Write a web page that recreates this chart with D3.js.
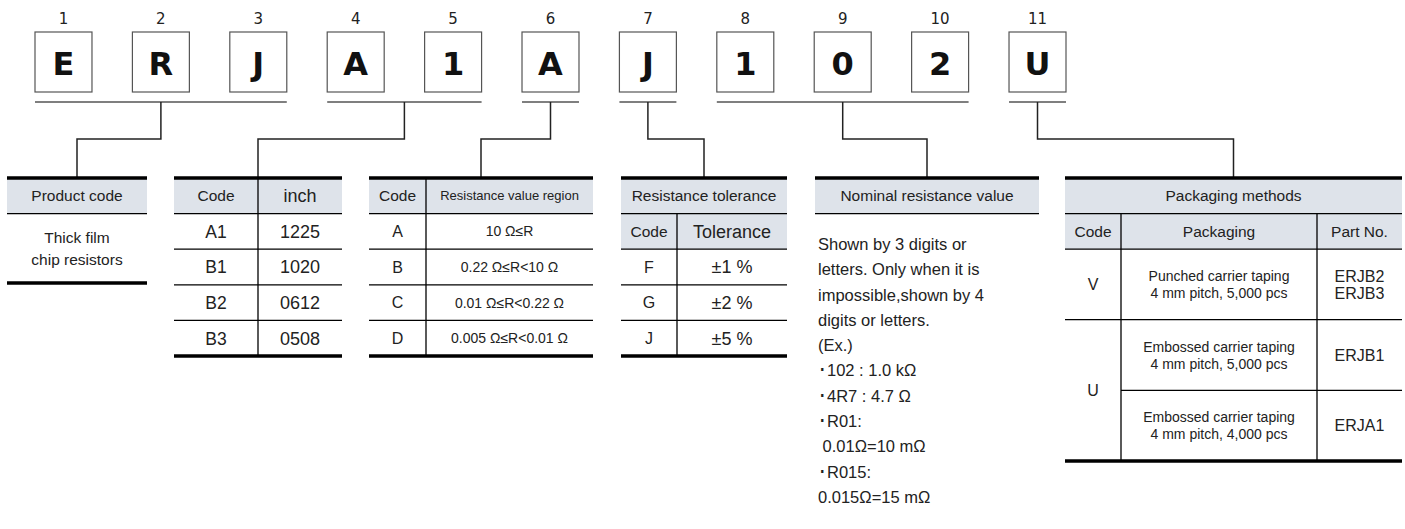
<!DOCTYPE html>
<html>
<head>
<meta charset="utf-8">
<script src="https://cdn.jsdelivr.net/npm/d3@7"></script>
<style>
  html, body { margin: 0; padding: 0; background: #fff; }
  svg { display: block; }
  .tbl text { font-family: "Liberation Sans", Arial, sans-serif; fill: #222; }
  .code text { font-family: "DejaVu Sans", Verdana, sans-serif; fill: #111; }
</style>
</head>
<body>
<div id="chart"></div>
<script>
// part number characters and their position numbers
const partPositions = ['1','2','3','4','5','6','7','8','9','10','11'];
const partChars     = ['E','R','J','A','1','A','J','1','0','2','U'];
// which characters belong to each explanation block (first, last index)
const groupSpans = [[0,2],[3,4],[5,5],[6,6],[7,9],[10,10]];

const productTitle = 'Product code';
const productText  = ['Thick film', 'chip resistors'];

const sizeHeader = ['Code', 'inch'];
const sizeCodes  = ['A1', 'B1', 'B2', 'B3'];
const sizeInches = ['1225', '1020', '0612', '0508'];

const regionHeader = ['Code', 'Resistance value region'];
const regionCodes  = ['A', 'B', 'C', 'D'];
const regionValues = ['10 Ω≤R', '0.22 Ω≤R<10 Ω', '0.01 Ω≤R<0.22 Ω', '0.005 Ω≤R<0.01 Ω'];

const toleranceTitle  = 'Resistance tolerance';
const toleranceHeader = ['Code', 'Tolerance'];
const toleranceCodes  = ['F', 'G', 'J'];
const toleranceValues = ['±1 %', '±2 %', '±5 %'];

const nominalTitle = 'Nominal resistance value';
const nominalLines = [
  'Shown by 3 digits or',
  'letters. Only when it is',
  'impossible,shown by 4',
  'digits or letters.',
  '(Ex.)',
  '･102 : 1.0 kΩ',
  '･4R7 : 4.7 Ω',
  '･R01:',
  ' 0.01Ω=10 mΩ',
  '･R015:',
  '0.015Ω=15 mΩ'
];

const packagingTitle  = 'Packaging methods';
const packagingHeader = ['Code', 'Packaging', 'Part No.'];
const packagingCodes  = ['V', 'U'];
const packagingTypes  = [
  ['Punched carrier taping', '4 mm pitch, 5,000 pcs'],
  ['Embossed carrier taping', '4 mm pitch, 5,000 pcs'],
  ['Embossed carrier taping', '4 mm pitch, 4,000 pcs']
];
const packagingParts = [['ERJB2', 'ERJB3'], ['ERJB1'], ['ERJA1']];

const W = 1405, H = 529;
const HEAD_FILL = '#dee3ea';

let svg = d3.select('#chart').append('svg')
  .attr('width', W)
  .attr('height', H);

// ---- scales
let x = d3.scaleBand()
  .domain(partPositions)
  .range([35, 1066])
  .paddingInner(0.415)
  .paddingOuter(0);

let rowY = d3.scaleLinear().domain([0, 5]).range([178, 356]);   // standard table rows
let pkgY = d3.scaleLinear().domain([0, 3]).range([249, 461]);   // packaging body rows
let lineY = d3.scaleLinear().domain([0, 1]).range([244, 269.3]); // nominal text lines

// ---- code boxes
let code = svg.append('g').attr('class', 'code');

code.selectAll('rect.box')
  .data(partChars)
  .join('rect')
  .attr('class', 'box')
  .attr('x', (d, i) => x(partPositions[i]))
  .attr('y', 32)
  .attr('width', x.bandwidth())
  .attr('height', 60)
  .attr('fill', '#fff')
  .attr('stroke', '#555')
  .attr('stroke-width', 1.2);

code.selectAll('text.char')
  .data(partChars)
  .join('text')
  .attr('class', 'char')
  .attr('x', (d, i) => x(partPositions[i]) + x.bandwidth() / 2)
  .attr('y', 63)
  .attr('dy', '0.36em')
  .attr('text-anchor', 'middle')
  .attr('font-size', 32)
  .attr('font-weight', 'bold')
  .text(d => d);

code.selectAll('text.pos')
  .data(partPositions)
  .join('text')
  .attr('class', 'pos')
  .attr('x', d => x(d) + x.bandwidth() / 2)
  .attr('y', 19)
  .attr('dy', '0.36em')
  .attr('text-anchor', 'middle')
  .attr('font-size', 15)
  .style('fill', '#222')
  .text(d => d);

// table extents, used for connector targets
let tables = [
  { x0: 7,    x1: 147 },
  { x0: 174,  x1: 342 },
  { x0: 369,  x1: 593 },
  { x0: 621,  x1: 787 },
  { x0: 815,  x1: 1039 },
  { x0: 1065, x1: 1402 }
];

// ---- brackets and connectors
let conn = svg.append('g');
groupSpans.forEach((s, i) => {
  let bx0 = x(partPositions[s[0]]),
      bx1 = x(partPositions[s[1]]) + x.bandwidth(),
      mid = (bx0 + bx1) / 2,
      tx  = (tables[i].x0 + tables[i].x1) / 2;
  conn.append('line')
    .attr('x1', bx0).attr('x2', bx1)
    .attr('y1', 102).attr('y2', 102)
    .attr('stroke', '#555').attr('stroke-width', 1.5);
  conn.append('path')
    .attr('d', 'M' + mid + ',102V139H' + tx + 'V' + rowY(0))
    .attr('fill', 'none')
    .attr('stroke', '#222')
    .attr('stroke-width', 1.5);
});

// ---- table helpers
let tbl = svg.append('g').attr('class', 'tbl');

function fill(x0, x1, y0, y1) {
  tbl.append('rect').attr('x', x0).attr('y', y0)
    .attr('width', x1 - x0).attr('height', y1 - y0)
    .attr('fill', HEAD_FILL);
}
function hline(x0, x1, y, w) {
  tbl.append('line').attr('x1', x0).attr('x2', x1).attr('y1', y).attr('y2', y)
    .attr('stroke', '#000').attr('stroke-width', w || 1.3);
}
function vline(xv, y0, y1) {
  tbl.append('line').attr('x1', xv).attr('x2', xv).attr('y1', y0).attr('y2', y1)
    .attr('stroke', '#000').attr('stroke-width', 1.3);
}
function txt(xv, y, s, size, anchor) {
  tbl.append('text')
    .attr('x', xv).attr('y', y).attr('dy', '0.36em')
    .attr('text-anchor', anchor || 'middle')
    .attr('font-size', size)
    .style('white-space', 'pre')
    .text(s);
}
function rowsTable(t, cols, header, headSizes, c1, c2, s1, s2, titleRows) {
  let top = titleRows || 0;
  let nRows = c1.length;
  fill(t.x0, t.x1, rowY(0), rowY(top + 1));
  for (let k = 1; k < top + 1 + nRows; k++) {
    hline(t.x0, t.x1, rowY(k));
  }
  vline(cols[1], rowY(top), rowY(top + 1 + nRows));
  hline(t.x0, t.x1, rowY(0), 3.5);
  hline(t.x0, t.x1, rowY(top + 1 + nRows), 3.5);
  txt((cols[0] + cols[1]) / 2, rowY(top + 0.5), header[0], headSizes[0]);
  txt((cols[1] + cols[2]) / 2, rowY(top + 0.5), header[1], headSizes[1]);
  c1.forEach((d, k) => {
    txt((cols[0] + cols[1]) / 2, rowY(top + 1.5 + k), d, s1);
    txt((cols[1] + cols[2]) / 2, rowY(top + 1.5 + k), c2[k], s2);
  });
}

// product code
let t0 = tables[0];
fill(t0.x0, t0.x1, rowY(0), rowY(1));
hline(t0.x0, t0.x1, rowY(0), 3.5);
hline(t0.x0, t0.x1, rowY(1));
hline(t0.x0, t0.x1, 283, 3.5);
txt((t0.x0 + t0.x1) / 2, rowY(0.5), productTitle, 15.5);
productText.forEach((d, k) => txt((t0.x0 + t0.x1) / 2, 237 + k * 22, d, 15.5));

// size
rowsTable(tables[1], [174, 258, 342], sizeHeader, [15.5, 18], sizeCodes, sizeInches, 17.5, 18);

// resistance value region
rowsTable(tables[2], [369, 426, 593], regionHeader, [15.5, 13], regionCodes, regionValues, 16, 14);

// tolerance
let t3 = tables[3];
rowsTable(t3, [621, 677, 787], toleranceHeader, [15.5, 18], toleranceCodes, toleranceValues, 16, 18, 1);
txt((t3.x0 + t3.x1) / 2, rowY(0.5), toleranceTitle, 15.5);

// nominal resistance value
let t4 = tables[4];
fill(t4.x0, t4.x1, rowY(0), rowY(1));
hline(t4.x0, t4.x1, rowY(0), 3.5);
hline(t4.x0, t4.x1, rowY(1));
txt((t4.x0 + t4.x1) / 2, rowY(0.5), nominalTitle, 15.5);
nominalLines.forEach((d, k) => txt(t4.x0 + 3, lineY(k), d, 16.5, 'start'));

// packaging methods
let t5 = tables[5], pc = [1065, 1121, 1317, 1402];
fill(t5.x0, t5.x1, rowY(0), rowY(2));
hline(t5.x0, t5.x1, rowY(1));
hline(t5.x0, t5.x1, rowY(2));
hline(t5.x0, t5.x1, pkgY(1));
hline(pc[1], t5.x1, pkgY(2));
vline(pc[1], rowY(1), pkgY(3));
vline(pc[2], rowY(1), pkgY(3));
hline(t5.x0, t5.x1, rowY(0), 3.5);
hline(t5.x0, t5.x1, pkgY(3), 3.5);
txt((t5.x0 + t5.x1) / 2, rowY(0.5), packagingTitle, 15.5);
packagingHeader.forEach((d, k) => txt((pc[k] + pc[k + 1]) / 2, rowY(1.5), d, 15.5));
txt((pc[0] + pc[1]) / 2, pkgY(0.5), packagingCodes[0], 16);
txt((pc[0] + pc[1]) / 2, pkgY(2), packagingCodes[1], 16);
packagingTypes.forEach((lines, k) => {
  lines.forEach((d, j) => {
    txt((pc[1] + pc[2]) / 2, pkgY(k + 0.5) + (j - (lines.length - 1) / 2) * 17, d, 14);
  });
  packagingParts[k].forEach((d, j) => {
    txt((pc[2] + pc[3]) / 2, pkgY(k + 0.5) + (j - (packagingParts[k].length - 1) / 2) * 17, d, 16);
  });
});
</script>
</body>
</html>
